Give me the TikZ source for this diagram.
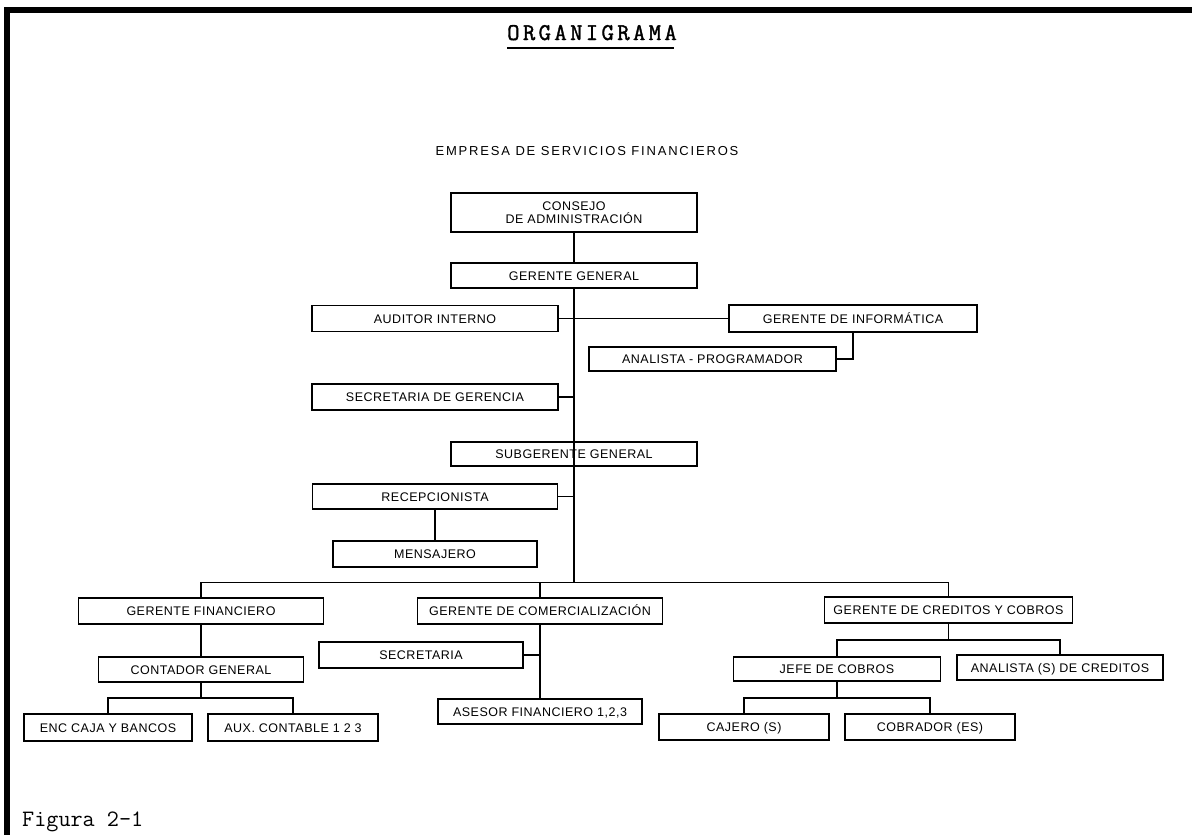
\documentclass[tikz,border=0pt]{standalone}
\usepackage{fontspec}
\setmainfont{Liberation Sans}
\newfontfamily\labelfont[LetterSpace=4]{Liberation Sans}
\newfontfamily\bannerfont[LetterSpace=14]{Liberation Sans}
\newfontfamily\titlefont[LetterSpace=14,FakeBold=1.5]{Latin Modern Mono}
\newfontfamily\captionfont{Latin Modern Mono}

\begin{document}
\begin{tikzpicture}[x=1pt, y=-1pt,
  boxbase/.style={draw, line width=1.1pt, inner sep=0pt,
    font=\labelfont\fontsize{12.5}{13}\selectfont},
  box/.style={boxbase, text height=9pt, text depth=0pt},
  link/.style={line width=1.1pt}]

\useasboundingbox (0,0) rectangle (1192,835);

% page frame (top and left rules)
\draw[line width=5.5pt] (4,10) -- (1192,10);
\draw[line width=5.5pt] (7,7.5) -- (7,835);

% headings
\node[anchor=base, inner sep=0pt, font=\titlefont\fontsize{24}{28}\selectfont]
  (title) at (592,40) {ORGANIGRAMA};
\draw[line width=2pt] ([yshift=-8pt]title.base west) -- ([yshift=-8pt,xshift=-3pt]title.base east);
\node[anchor=base, inner sep=0pt, font=\bannerfont\fontsize{13}{15}\selectfont] (company) at (587,155) {EMPRESA DE SERVICIOS FINANCIEROS};
\node[anchor=base west, inner sep=0pt, font=\captionfont\fontsize{23.5}{26}\selectfont] (figlabel) at (22,826) {Figura 2-1};

% upper management
\node[boxbase, align=center, minimum width=246pt, minimum height=39pt] (consejo) at (574,212.5) {CONSEJO\\DE ADMINISTRACIÓN};
\node[box, minimum width=246pt, minimum height=25pt] (gg) at (574,275.5) {GERENTE GENERAL};
\node[box, minimum width=246pt, minimum height=26pt] (auditor) at (435,318.5) {AUDITOR INTERNO};
\node[box, minimum width=248pt, minimum height=27pt] (ginf) at (853,318.5) {GERENTE DE INFORMÁTICA};
\node[box, minimum width=247pt, minimum height=24pt] (analista) at (712.5,359) {ANALISTA - PROGRAMADOR};
\node[box, minimum width=246pt, minimum height=26pt] (secger) at (435,397) {SECRETARIA DE GERENCIA};
\node[box, minimum width=246pt, minimum height=24pt] (subg) at (574,454) {SUBGERENTE GENERAL};
\node[box, minimum width=245pt, minimum height=25pt] (recep) at (435,496.5) {RECEPCIONISTA};
\node[box, minimum width=204pt, minimum height=26pt] (mens) at (435,554) {MENSAJERO};

% departments
\node[box, minimum width=245pt, minimum height=26pt] (gf) at (201,611) {GERENTE FINANCIERO};
\node[box, minimum width=245pt, minimum height=26pt] (gc) at (540,611) {GERENTE DE COMERCIALIZACIÓN};
\node[box, minimum width=248pt, minimum height=26pt] (gcc) at (948.5,610) {GERENTE DE CREDITOS Y COBROS};

\node[box, minimum width=205pt, minimum height=25pt] (cont) at (201,669.5) {CONTADOR GENERAL};
\node[box, minimum width=168pt, minimum height=27pt] (enc) at (108,727.5) {ENC CAJA Y BANCOS};
\node[box, minimum width=170pt, minimum height=27pt] (aux) at (293,727.5) {AUX. CONTABLE 1 2 3};

\node[box, minimum width=204pt, minimum height=26pt] (secr) at (421,655) {SECRETARIA};
\node[box, minimum width=204pt, minimum height=25pt] (ases) at (540,711.5) {ASESOR FINANCIERO 1,2,3};

\node[box, minimum width=207pt, minimum height=24pt] (jefe) at (837,669) {JEFE DE COBROS};
\node[box, minimum width=206pt, minimum height=25pt] (anal) at (1060,667.5) {ANALISTA (S) DE CREDITOS};
\node[box, minimum width=170pt, minimum height=26pt] (caj) at (744,727) {CAJERO (S)};
\node[box, minimum width=170pt, minimum height=26pt] (cob) at (930,727) {COBRADOR (ES)};

% junction points of the bus lines
\coordinate (trunk) at (574,582.5);
\coordinate (contbus) at (201,698);
\coordinate (credbus) at (948.5,640);
\coordinate (cobbus) at (837,698);

% main line of authority
\draw[link] (consejo.south) -- (gg.north);
\draw[link] (gg.south) -- (trunk);
\draw[link] (auditor.east) -- (ginf.west);
\draw[link] (ginf.south) |- (analista.east);
\draw[link] (secger.east) -- (secger.east -| trunk);
\draw[link] (recep.east) -- (recep.east -| trunk);
\draw[link] (recep.south) -- (mens.north);

% department bus
\draw[link] (gf.north) |- (trunk) -| (gcc.north);
\draw[link] (gc.north) -- (gc.north |- trunk);

% finance
\draw[link] (gf.south) -- (cont.north);
\draw[link] (cont.south) -- (contbus);
\draw[link] (enc.north) |- (contbus) -| (aux.north);

% marketing
\draw[link] (gc.south) -- (ases.north);
\draw[link] (secr.east) -- (secr.east -| gc.south);

% credits and collections
\draw[link] (gcc.south) -- (credbus);
\draw[link] (jefe.north) |- (credbus) -| (anal.north);
\draw[link] (jefe.south) -- (cobbus);
\draw[link] (caj.north) |- (cobbus) -| (cob.north);
\end{tikzpicture}
\end{document}
